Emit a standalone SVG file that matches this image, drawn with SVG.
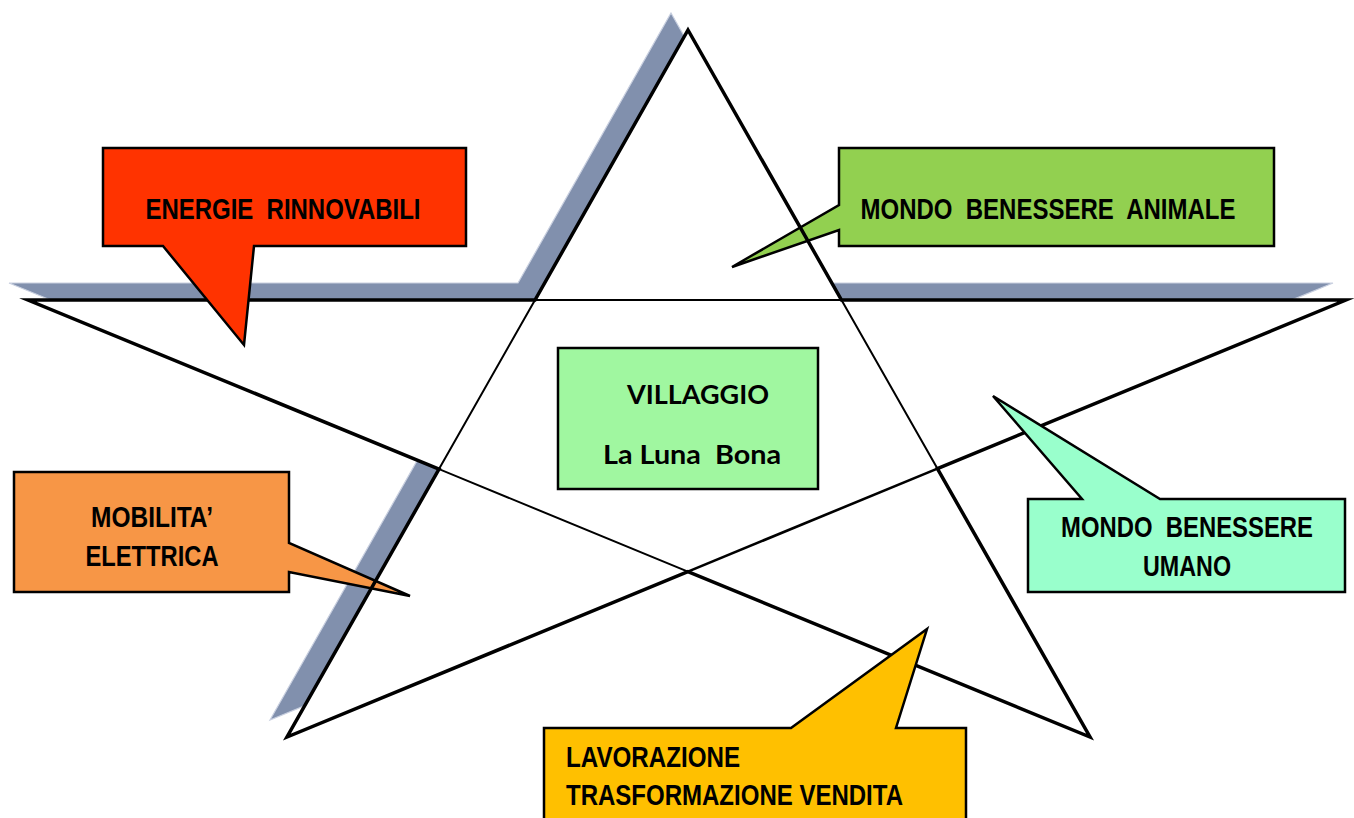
<svg xmlns="http://www.w3.org/2000/svg" width="1354" height="818" viewBox="0 0 1354 818">
<style>
.t{font-family:"Liberation Sans",Arial,sans-serif;font-weight:bold;font-size:29px;fill:#000;white-space:pre}
.m{text-anchor:middle}
.c{font-family:Lato,"Liberation Sans",sans-serif;font-weight:bold;font-size:27px;fill:#000;white-space:pre}
.box{stroke:#000;stroke-width:2.5;stroke-linejoin:miter}
.outer{fill:none;stroke:#000;stroke-width:3.5;stroke-linejoin:miter;stroke-miterlimit:6}
.inner{fill:none;stroke:#000;stroke-width:2;stroke-linejoin:miter}
</style>
<defs>
<mask id="starcut" maskUnits="userSpaceOnUse" x="0" y="0" width="1354" height="818">
<rect x="0" y="0" width="1354" height="818" fill="#fff"/>
<polygon points="688,30 841.5,300 1346,300 937.4,468.6 1090,737 687.9,571.6 287,737 439,469.1 28,300 535,300" fill="#000"/>
</mask>
</defs>
<rect x="0" y="0" width="1354" height="818" fill="#fff"/>
<g id="star-shadow" mask="url(#starcut)">
<polygon points="671,13 824.5,283 1333,283 924.4,451.6 1073,720 670.9,554.6 270,720 422,452.1 9,283 518,283" fill="#8190AD" stroke="#c9d0e0" stroke-width="1.2"/>
</g>
<g id="node-mobilita">
<path class="box" fill="#F79646" d="M14,472 H289 V543 L410,596 L289,572 V592 H14 Z"/>
<text class="t m" x="152" y="527" textLength="122" lengthAdjust="spacingAndGlyphs">MOBILITA’</text>
<text class="t m" x="152" y="566" textLength="133" lengthAdjust="spacingAndGlyphs">ELETTRICA</text>
</g>
<g id="node-animale">
<path class="box" fill="#92D050" d="M839,148 H1274 V246 H839 V230 L732,267 L839,205 Z"/>
<text class="t m" x="1048" y="219" textLength="375" lengthAdjust="spacingAndGlyphs">MONDO  BENESSERE  ANIMALE</text>
</g>
<g id="connectors">
<path class="outer" d="M688,30 L841.5,300 L1346,300 L937.4,468.6 L1090,737 L687.9,571.6 L287,737 L439,469.1 L28,300 L535,300 Z"/>
<path class="inner" d="M535,300 L841.5,300 L937.4,468.6 M687.9,571.6 L439,469.1 L535,300"/>
<path class="inner" style="stroke-width:2.6" d="M937.4,468.6 L687.9,571.6"/>
</g>
<g id="node-energie">
<path class="box" fill="#FF3300" d="M103,148 H466 V246 H254 L244,345 L163,246 H103 Z"/>
<text class="t m" x="283" y="219" textLength="275" lengthAdjust="spacingAndGlyphs">ENERGIE  RINNOVABILI</text>
</g>
<g id="node-umano">
<path class="box" fill="#99FFCC" d="M1028,499 H1082 L993,396 L1160,499 H1345 V592 H1028 Z"/>
<text class="t m" transform="translate(1187,537) scale(0.823,1)" x="0" y="0">MONDO  BENESSERE</text>
<text class="t m" x="1187" y="576" textLength="88" lengthAdjust="spacingAndGlyphs">UMANO</text>
</g>
<g id="node-lavorazione">
<path class="box" fill="#FFC000" d="M544,728 H791 L927,629 L896,728 H966 V830 H544 Z"/>
<text class="t" x="566" y="767" textLength="174" lengthAdjust="spacingAndGlyphs">LAVORAZIONE</text>
<text class="t" x="566" y="805" textLength="337" lengthAdjust="spacingAndGlyphs">TRASFORMAZIONE VENDITA</text>
</g>
<g id="node-villaggio">
<rect class="box" fill="#A0F7A0" x="558" y="348" width="260" height="141"/>
<text class="c m" x="698" y="404" textLength="142" lengthAdjust="spacingAndGlyphs">VILLAGGIO</text>
<text class="c m" x="692" y="464" textLength="178" lengthAdjust="spacingAndGlyphs">La Luna  Bona</text>
</g>
</svg>
